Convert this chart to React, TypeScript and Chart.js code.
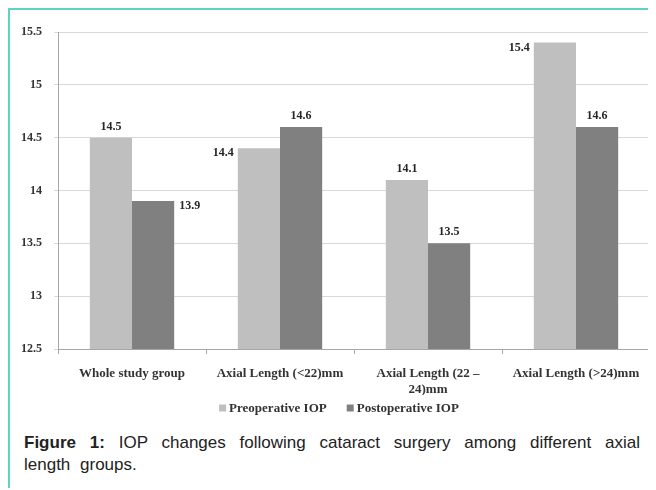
import React, { useEffect, useRef } from "react";
import { Chart, registerables } from "chart.js";

Chart.register(...registerables);

const categories: (string | string[])[] = [
  "Whole study group",
  "Axial Length (<22)mm",
  ["Axial Length (22 \u2013", "24)mm"],
  "Axial Length (>24)mm",
];
const preoperative = [14.5, 14.4, 14.1, 15.4];
const postoperative = [13.9, 14.6, 13.5, 14.6];
const preLabelPos = ["top", "left", "top", "left"];
const postLabelPos = ["right", "top", "top", "top"];
const yTicks = [12.5, 13, 13.5, 14, 14.5, 15, 15.5];

const serif = "'Liberation Serif', 'Times New Roman', serif";

const labelPlugin = {
  id: "barLabels",
  afterDatasetsDraw(chart: any) {
    const ctx = chart.ctx;
    ctx.save();
    ctx.font = `bold 12px ${serif}`;
    ctx.fillStyle = "#262626";
    chart.data.datasets.forEach((ds: any, di: number) => {
      const meta = chart.getDatasetMeta(di);
      const pos = di === 0 ? preLabelPos : postLabelPos;
      meta.data.forEach((bar: any, i: number) => {
        const txt = String(ds.data[i]);
        const p = pos[i];
        const half = bar.width / 2;
        if (p === "top") {
          ctx.textAlign = "center";
          ctx.textBaseline = "bottom";
          ctx.fillText(txt, bar.x, bar.y - 5);
        } else if (p === "left") {
          ctx.textAlign = "right";
          ctx.textBaseline = "middle";
          ctx.fillText(txt, bar.x - half - 4, bar.y + 5);
        } else {
          ctx.textAlign = "left";
          ctx.textBaseline = "middle";
          ctx.fillText(txt, bar.x + half + 5, bar.y + 5);
        }
      });
    });
    ctx.restore();
  },
};

const legendPlugin = {
  id: "bottomLegend",
  afterDraw(chart: any) {
    const ctx = chart.ctx;
    ctx.save();
    ctx.font = `bold 13px ${serif}`;
    ctx.textBaseline = "middle";
    ctx.textAlign = "left";
    const box = 7;
    const gapBox = 3;
    const gapItem = 20;
    const items = chart.data.datasets.map((ds: any) => ({
      text: ds.label,
      color: ds.backgroundColor,
      w: box + gapBox + ctx.measureText(ds.label).width,
    }));
    const total = items.reduce((a: number, it: any) => a + it.w, 0) + gapItem * (items.length - 1);
    let x = chart.width / 2 + 6 - total / 2;
    const y = chart.height - 16;
    items.forEach((it: any) => {
      ctx.fillStyle = it.color;
      ctx.fillRect(x, y - box / 2 - 1, box, box);
      ctx.fillStyle = "#333";
      ctx.fillText(it.text, x + box + gapBox, y);
      x += it.w + gapItem;
    });
    ctx.restore();
  },
};

export default function App() {
  const ref = useRef<HTMLCanvasElement | null>(null);
  useEffect(() => {
    if (!ref.current) return;
    const chart = new Chart(ref.current, {
      type: "bar",
      data: {
        labels: categories as any,
        datasets: [
          {
            label: "Preoperative IOP",
            data: preoperative,
            backgroundColor: "#bfbfbf",
            categoryPercentage: 0.57,
            barPercentage: 1,
          },
          {
            label: "Postoperative IOP",
            data: postoperative,
            backgroundColor: "#808080",
            categoryPercentage: 0.57,
            barPercentage: 1,
          },
        ],
      },
      options: {
        animation: false,
        responsive: false,
        layout: { padding: { top: 22, right: 6, bottom: 30, left: 0 } },
        plugins: {
          legend: { display: false },
          tooltip: { enabled: false },
        },
        scales: {
          x: {
            grid: {
              display: true,
              drawOnChartArea: false,
              offset: true,
              tickLength: 5,
              color: "#a6a6a6",
            },
            border: { color: "#a6a6a6" },
            ticks: {
              color: "#333",
              font: { family: serif, size: 13, weight: "bold" },
              padding: 12,
              maxRotation: 0,
            },
            afterFit(s: any) {
              s.height = 46;
            },
          },
          y: {
            min: 12.5,
            max: 15.5,
            afterBuildTicks(s: any) {
              s.ticks = yTicks.map((v) => ({ value: v }));
            },
            grid: { color: "#d9d9d9", tickLength: 4 },
            border: { color: "#a6a6a6" },
            ticks: {
              color: "#333",
              font: { family: serif, size: 12, weight: "bold" },
              padding: 12,
              callback: (v: any) => String(v),
            },
            afterFit(s: any) {
              s.width = 48;
            },
          },
        },
      },
      plugins: [labelPlugin, legendPlugin],
    } as any);
    return () => chart.destroy();
  }, []);

  return (
    <div
      style={{
        borderTop: "2px solid #5dd4c1",
        borderLeft: "2px solid #5dd4c1",
        height: 480,
        boxSizing: "border-box",
        width: 648,
      }}
    >
      <canvas ref={ref} width={646} height={415} style={{ display: "block" }} />
      <div
        style={{
          fontFamily: "'Liberation Sans', Arial, sans-serif",
          fontSize: 17,
          lineHeight: "22px",
          wordSpacing: "5px",
          color: "#222",
          textAlign: "justify",
          padding: "7px 16px 0 14px",
        }}
      >
        <b>Figure 1:</b> IOP changes following cataract surgery among different axial length groups.
      </div>
    </div>
  );
}
